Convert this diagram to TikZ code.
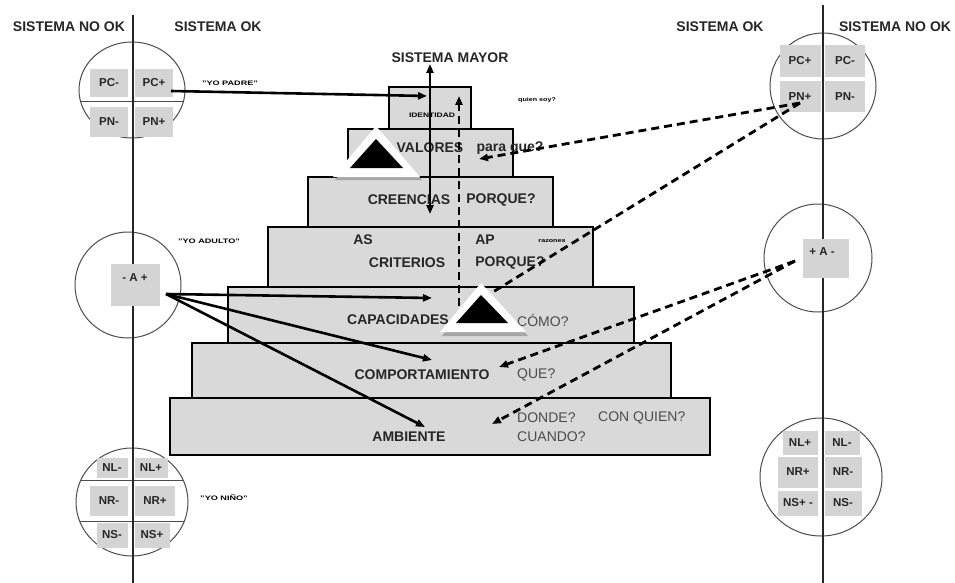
\documentclass[tikz,border=0pt]{standalone}
\usepackage{fontspec}
\setmainfont{Liberation Sans}
\usetikzlibrary{arrows.meta}
\definecolor{stepfill}{gray}{0.85}
\definecolor{cellfill}{gray}{0.83}
\definecolor{inkgray}{gray}{0.15}
\definecolor{softgray}{gray}{0.30}
\begin{document}
\begin{tikzpicture}[x=1pt,y=-1pt,
  level/.style={draw=black, line width=1.8pt, fill=stepfill, inner sep=0pt},
  cell/.style={fill=cellfill, inner sep=0pt, text=inkgray,
    font=\fontsize{11.5}{11.5}\selectfont\bfseries},
  head/.style={text=inkgray, inner sep=0pt, font=\fontsize{14}{14}\selectfont\bfseries},
  lab/.style={text=inkgray, inner sep=0pt, font=\fontsize{14}{14}\selectfont\bfseries},
  ask/.style={text=softgray, inner sep=0pt, anchor=west, font=\fontsize{14}{14}\selectfont},
  tiny/.style={text=black, inner sep=0pt, font=\fontsize{6.5}{6.5}\selectfont\bfseries},
  axis/.style={draw=inkgray, line width=1.6pt},
  ring/.style={draw=softgray, line width=1pt},
  solidarrow/.style={draw=black, line width=2.6pt, -{Triangle[length=9pt,width=7pt]}},
  dasharrow/.style={draw=black, line width=2.8pt, dash pattern=on 8pt off 5pt,
    -{Triangle[length=9pt,width=7pt]}},
]
\useasboundingbox (0,0) rectangle (955,583);

% ---------- column headers ----------
\node[head] (hnl) at (69,27) {SISTEMA NO OK};
\node[head] (hol) at (218,27) {SISTEMA OK};
\node[head] (hor) at (720,27) {SISTEMA OK};
\node[head] (hnr) at (895,27) {SISTEMA NO OK};

% ---------- dividing axes ----------
\coordinate (la1) at (133,15);  \coordinate (la2) at (133,583);
\coordinate (ra1) at (823,5);   \coordinate (ra2) at (823,583);

% ---------- left circles (rings first, cells on top) ----------
\draw[ring] (132,90) ellipse [x radius=53, y radius=48];
\begin{scope}
  \clip (132,90) ellipse [x radius=53, y radius=48];
  \draw[ring] (70,102) -- (195,102);
\end{scope}
\draw[ring] (128,285) circle [radius=53];
\draw[ring] (132,502) ellipse [x radius=56, y radius=54];
\begin{scope}
  \clip (132,502) ellipse [x radius=56, y radius=54];
  \draw[ring] (70,480) -- (195,480);
  \draw[ring] (70,521) -- (195,521);
\end{scope}

% ---------- right circles ----------
\draw[ring] (823,86) circle [radius=53];
\draw[ring] (818,258) circle [radius=54];
\draw[ring] (821,477) ellipse [x radius=61, y radius=59];

% axes over the rings
\draw[axis] (la1) -- (la2);
\draw[axis] (ra1) -- (ra2);

% ---------- cells: parent / adult / child ----------
\node[cell, minimum width=38pt, minimum height=28pt] (pcml) at (109,83) {PC-};
\node[cell, minimum width=38pt, minimum height=28pt] (pcpl) at (154,83) {PC+};
\node[cell, minimum width=38pt, minimum height=30pt] (pnml) at (109,122) {PN-};
\node[cell, minimum width=38pt, minimum height=30pt] (pnpl) at (154,122) {PN+};

\node[cell, minimum width=41pt, minimum height=32pt] (pcpr) at (800,61) {PC+};
\node[cell, minimum width=40pt, minimum height=32pt] (pcmr) at (845,61) {PC-};
\node[cell, minimum width=41pt, minimum height=31pt] (pnpr) at (800,97) {PN+};
\node[cell, minimum width=40pt, minimum height=31pt] (pnmr) at (845,97) {PN-};

\node[cell, minimum width=49pt, minimum height=42pt] (adl) at (135,285) {};
\node[cell, fill=none] (adlt) at (135,278) {- A +};
\node[cell, minimum width=46pt, minimum height=39pt] (adr) at (826,258) {};
\node[cell, fill=none] (adrt) at (822,252) {+ A -};

\node[cell, minimum width=31pt, minimum height=20pt] (nlml) at (112,468) {NL-};
\node[cell, minimum width=33pt, minimum height=20pt] (nlpl) at (151,468) {NL+};
\node[cell, minimum width=38pt, minimum height=30pt] (nrml) at (109,501) {NR-};
\node[cell, minimum width=40pt, minimum height=30pt] (nrpl) at (155,501) {NR+};
\node[cell, minimum width=31pt, minimum height=25pt] (nsml) at (112,535) {NS-};
\node[cell, minimum width=35pt, minimum height=25pt] (nspl) at (152,535) {NS+};

\node[cell, minimum width=35pt, minimum height=24pt] (nlpr) at (800,443) {NL+};
\node[cell, minimum width=35pt, minimum height=24pt] (nlmr) at (842,443) {NL-};
\node[cell, minimum width=40pt, minimum height=31pt] (nrpr) at (798,472) {NR+};
\node[cell, minimum width=37pt, minimum height=31pt] (nrmr) at (843,472) {NR-};
\node[cell, minimum width=40pt, minimum height=25pt] (nspr) at (798,503) {NS+ -};
\node[cell, minimum width=37pt, minimum height=25pt] (nsmr) at (843,503) {NS-};

% ---------- ego-state captions ----------
\node[tiny] (yop) at (230,83) {\scalebox{1.4}[1]{"YO PADRE"}};
\node[tiny] (yoa) at (209,241) {\scalebox{1.4}[1]{"YO ADULTO"}};
\node[tiny] (yon) at (224,498) {\scalebox{1.4}[1]{"YO NIÑO"}};

% ---------- logical levels pyramid ----------
\node[level, minimum width=540pt, minimum height=57pt] (amb) at (440,426.5) {};
\node[level, minimum width=479pt, minimum height=55pt] (com) at (431.5,370.5) {};
\node[level, minimum width=406pt, minimum height=56pt] (cap) at (431,315) {};
\node[level, minimum width=325pt, minimum height=60pt] (cri) at (430.5,257) {};
\node[level, minimum width=245pt, minimum height=50pt] (cre) at (430.5,202) {};
\node[level, minimum width=165pt, minimum height=48pt] (val) at (430.5,153) {};
\node[level, minimum width=82pt, minimum height=42pt] (ide) at (430,108) {};

\node[head] (smay) at (450,58) {SISTEMA MAYOR};
\node[tiny] (idt) at (432,115) {\scalebox{1.3}[1]{IDENTIDAD}};
\node[tiny, font=\fontsize{5.5}{5.5}\selectfont\bfseries] (qui) at (537,100) {\scalebox{1.3}[1]{quien soy?}};
\node[lab] (valt) at (430,148) {VALORES};
\node[lab] (valq) at (510,148) {para que?};
\node[lab] (cret) at (409,200) {CREENCIAS};
\node[lab] (creq) at (501,200) {PORQUE?};
\node[lab] (ast) at (363,240) {AS};
\node[lab] (apt) at (485,240) {AP};
\node[tiny, font=\fontsize{5.5}{5.5}\selectfont\bfseries] (raz) at (552,241) {\scalebox{1.3}[1]{razones}};
\node[lab] (crit) at (407,263) {CRITERIOS};
\node[lab] (criq) at (510,263) {PORQUE?};
\node[lab] (capt) at (398,320) {CAPACIDADES};
\node[ask] (capq) at (517,320) {CÓMO?};
\node[lab] (comt) at (422,375) {COMPORTAMIENTO};
\node[ask] (comq) at (517,375) {QUE?};
\node[lab] (ambt) at (409,437) {AMBIENTE};
\node[ask] (ambq1) at (517,418) {DONDE?};
\node[ask] (ambq2) at (598,418) {CON QUIEN?};
\node[ask] (ambq3) at (517,437) {CUANDO?};

% ---------- connectors ----------
\coordinate (pcpout) at (171,91);
\coordinate (idin) at (427,96);
\coordinate (vtop) at (430,64);
\coordinate (vbot) at (430,214);
\coordinate (dtop) at (459,96);
\coordinate (dbot) at (459,306);
\coordinate (adout) at (166,294);
\coordinate (capin) at (432,298);
\coordinate (comin) at (432,360);
\coordinate (ambin) at (425,427);
\coordinate (pnout) at (800,103);
\coordinate (valin) at (479,159);
\coordinate (capend) at (480,300);
\coordinate (arout) at (795,261);
\coordinate (comend) at (499,367);
\coordinate (ambend) at (492,424);

\draw[solidarrow] (pcpout) -- (idin);
\draw[solidarrow, {Triangle[length=9pt,width=7pt]}-{Triangle[length=9pt,width=7pt]}] (vbot) -- (vtop);
\draw[dasharrow] (dbot) -- (dtop);
\draw[solidarrow] (adout) -- (capin);
\draw[solidarrow] (adout) -- (comin);
\draw[solidarrow] (adout) -- (ambin);
\draw[dasharrow] (pnout) -- (valin);
\draw[dasharrow, -] (pnout) -- (capend);
\draw[dasharrow] (arout) -- (comend);
\draw[dasharrow] (arout) -- (ambend);

% ---------- outlined black triangles ----------
\fill[gray!70] (378,130) -- (335,180) -- (422,180) -- cycle;
\fill[white] (376,126) -- (333,177) -- (420,177) -- cycle;
\fill[black] (376,139) -- (350,168) -- (403,168) -- cycle;

\fill[gray!70] (483,286) -- (442,336) -- (528,336) -- cycle;
\fill[white] (481,283) -- (440,332) -- (526,332) -- cycle;
\fill[black] (481,295) -- (456,323) -- (508,323) -- cycle;

\end{tikzpicture}
\end{document}
